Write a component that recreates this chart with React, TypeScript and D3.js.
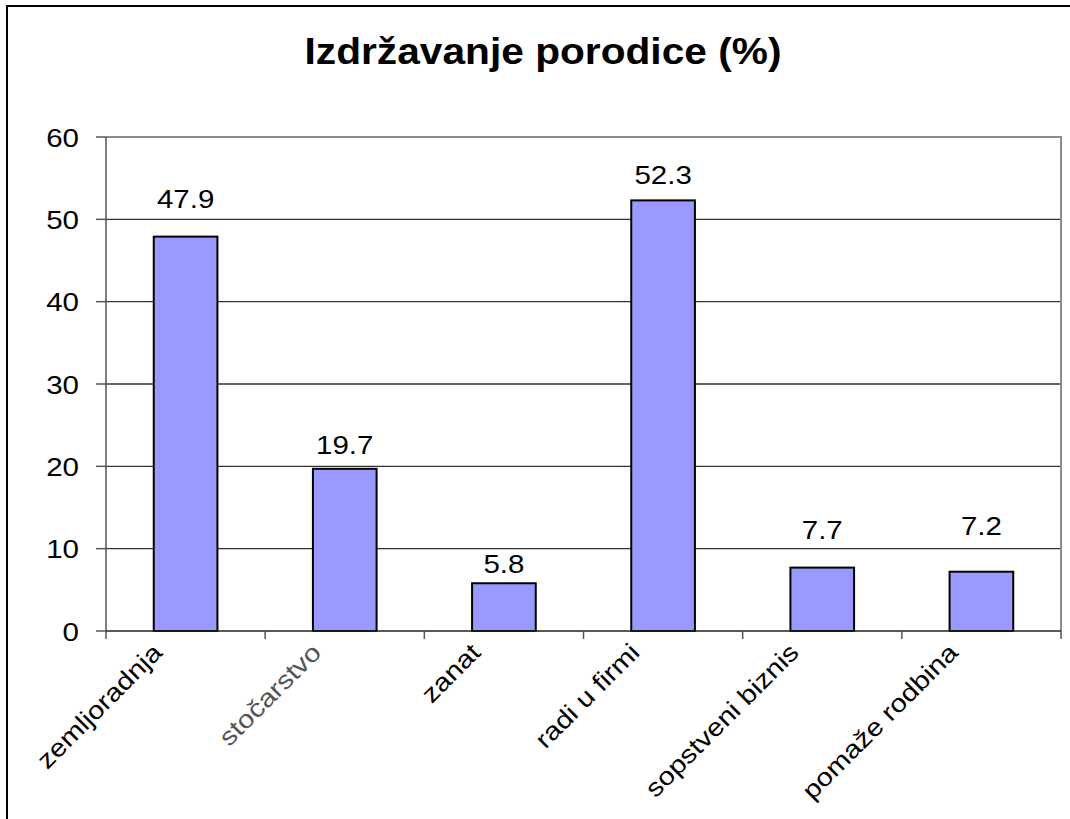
import React, { useEffect, useRef } from 'react';
import * as d3 from 'd3';

const categories = ['zemljoradnja', 'stočarstvo', 'zanat', 'radi u firmi', 'sopstveni biznis', 'pomaže rodbina'];
const values = [47.9, 19.7, 5.8, 52.3, 7.7, 7.2];
const yTicks = [0, 10, 20, 30, 40, 50, 60];
const title = 'Izdržavanje porodice (%)';

// the value labels were nudged by hand in the original, so each one sits at its own gap above the bar
const labelGap = [29, 15, 10, 16, 29, 37];

const App = () => {
  const svgRef = useRef<SVGSVGElement | null>(null);

  useEffect(() => {
    if (!svgRef.current) return;
    const svg = d3.select(svgRef.current);
    svg.selectAll('*').remove();

    const width = 1070;
    const height = 819;
    const plot = { left: 106, right: 1061, top: 137, bottom: 631 };
    const font = '"Liberation Sans", Arial, sans-serif';
    const stretch = 1.18;

    svg.attr('width', width).attr('height', height);

    // outer chart border (right and bottom run off the picture)
    svg.append('rect')
      .attr('x', 7).attr('y', 6)
      .attr('width', width + 20).attr('height', height + 20)
      .attr('fill', 'white')
      .attr('stroke', '#000').attr('stroke-width', 2);

    const x = d3.scaleBand<string>()
      .domain(categories)
      .range([plot.left, plot.right])
      .paddingInner(0.6)
      .paddingOuter(0.3);

    const y = d3.scaleLinear()
      .domain([0, 60])
      .range([plot.bottom, plot.top]);

    const step = x.step();

    // title
    svg.append('g')
      .attr('transform', `translate(543, 64) scale(1.13, 1)`)
      .append('text')
      .attr('text-anchor', 'middle')
      .attr('font-family', font)
      .attr('font-weight', 'bold')
      .attr('font-size', 36)
      .attr('fill', '#000')
      .text(title);

    // gridlines
    svg.append('g')
      .selectAll('line')
      .data(yTicks.filter(t => t > 0 && t < 60))
      .enter()
      .append('line')
      .attr('x1', plot.left).attr('x2', plot.right)
      .attr('y1', d => y(d)).attr('y2', d => y(d))
      .attr('stroke', '#333').attr('stroke-width', 1.3);

    // plot area border (top, right)
    svg.append('path')
      .attr('d', `M${plot.left},${y(60)}H${plot.right}V${plot.bottom}`)
      .attr('fill', 'none')
      .attr('stroke', '#8c8c8c').attr('stroke-width', 2);

    // y axis line and ticks
    svg.append('line')
      .attr('x1', plot.left).attr('x2', plot.left)
      .attr('y1', plot.top).attr('y2', plot.bottom)
      .attr('stroke', '#555').attr('stroke-width', 1.5);

    svg.append('g')
      .selectAll('line')
      .data(yTicks)
      .enter()
      .append('line')
      .attr('x1', 96).attr('x2', plot.left)
      .attr('y1', d => y(d)).attr('y2', d => y(d))
      .attr('stroke', '#555').attr('stroke-width', 1.5);

    svg.append('g')
      .selectAll('g')
      .data(yTicks)
      .enter()
      .append('g')
      .attr('transform', d => `translate(79, ${y(d) + 9.5}) scale(${stretch}, 1)`)
      .append('text')
      .attr('text-anchor', 'end')
      .attr('font-family', font)
      .attr('font-size', 25)
      .attr('fill', '#000')
      .text(d => d);

    // bars
    svg.append('g')
      .selectAll('rect')
      .data(values)
      .enter()
      .append('rect')
      .attr('x', (d, i) => x(categories[i])!)
      .attr('y', d => y(d))
      .attr('width', x.bandwidth())
      .attr('height', d => y(0) - y(d))
      .attr('fill', '#9999ff')
      .attr('stroke', '#000').attr('stroke-width', 2);

    // value labels
    svg.append('g')
      .selectAll('g')
      .data(values)
      .enter()
      .append('g')
      .attr('transform', (d, i) => `translate(${x(categories[i])! + x.bandwidth() / 2}, ${y(d) - labelGap[i]}) scale(${stretch}, 1)`)
      .append('text')
      .attr('text-anchor', 'middle')
      .attr('font-family', font)
      .attr('font-size', 25)
      .attr('fill', '#000')
      .text(d => d.toFixed(1));

    // x axis line
    svg.append('line')
      .attr('x1', plot.left).attr('x2', plot.right)
      .attr('y1', plot.bottom).attr('y2', plot.bottom)
      .attr('stroke', '#222').attr('stroke-width', 1.5);

    // x ticks at category boundaries
    svg.append('g')
      .selectAll('line')
      .data(d3.range(categories.length + 1))
      .enter()
      .append('line')
      .attr('x1', i => plot.left + i * step).attr('x2', i => plot.left + i * step)
      .attr('y1', plot.bottom).attr('y2', plot.bottom + 8)
      .attr('stroke', '#555').attr('stroke-width', 1.5);

    // category labels
    svg.append('g')
      .selectAll('g')
      .data(categories)
      .enter()
      .append('g')
      .attr('transform', d => `translate(${x(d)! + x.bandwidth() / 2 - 22}, 654) rotate(-45) scale(1.16, 1)`)
      .append('text')
      .attr('text-anchor', 'end')
      .attr('font-family', font)
      .attr('font-size', 25)
      .attr('fill', (d, i) => (i === 1 ? '#555' : '#000'))
      .text(d => d);
  }, []);

  return (
    <div>
      <svg ref={svgRef} style={{ position: 'absolute', left: 0, top: 0 }}></svg>
    </div>
  );
};

export default App;
